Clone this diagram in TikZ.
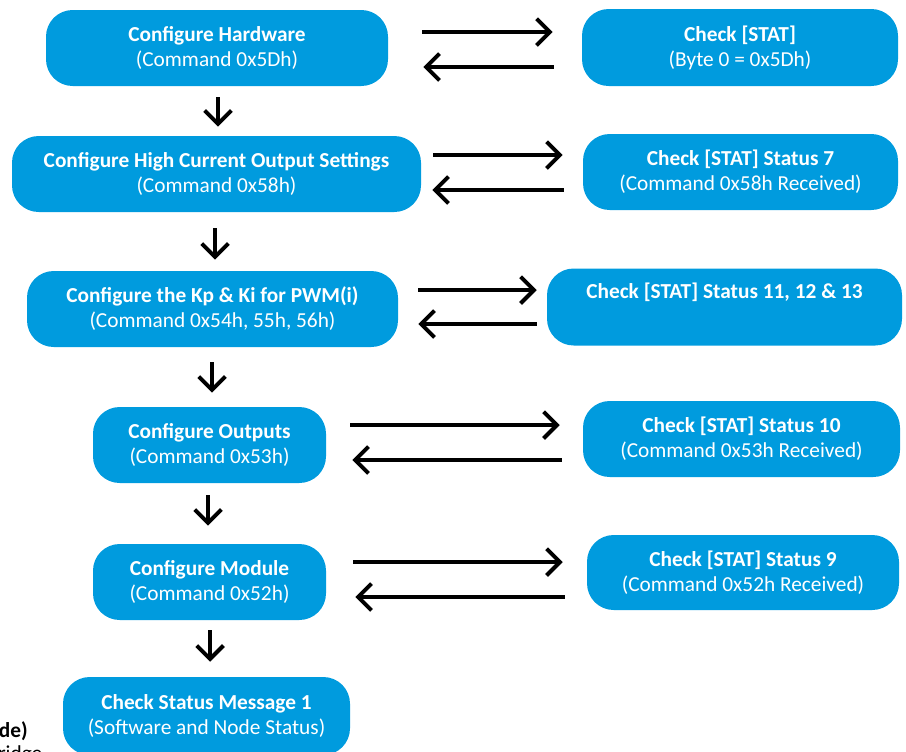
\documentclass[tikz,border=0pt]{standalone}
\usepackage{fontspec}
\setmainfont{Carlito}
\usetikzlibrary{arrows.meta,calc}
\definecolor{boxblue}{RGB}{0,155,222}
\begin{document}
\begin{tikzpicture}[x=0.75pt,y=-0.75pt,
  box/.style={fill=boxblue,rounded corners=20pt,text=white,align=center,inner sep=0pt,
    font=\fontsize{16pt}{18.75pt}\selectfont},
  sz/.style 2 args={minimum width=#1*0.75pt,minimum height=#2*0.75pt},
  harr/.style={line width=3pt,-{Straight Barb[length=10pt,width=20pt,line width=3pt]}},
  varr/.style={line width=3pt,-{Straight Barb[length=10pt,width=20pt,line width=3pt]}},
  sidetext/.style={font=\fontsize{16pt}{18.75pt}\selectfont,inner sep=0pt}]
\useasboundingbox (0,0) rectangle (906,751);
\clip (0,0) rectangle (906,751);
% left column
\node[box,sz={342}{76}] (a1) at (217,48) {\textbf{Configure Hardware}\\(Command 0x5Dh)};
\node[box,sz={409}{76}] (a2) at (216.5,174) {\textbf{Configure High Current Output Settings}\\(Command 0x58h)};
\node[box,sz={371}{76}] (a3) at (212.5,309) {\textbf{Configure the Kp \& Ki for PWM(i)}\\(Command 0x54h, 55h, 56h)};
\node[box,sz={233}{76}] (a4) at (209.5,445) {\textbf{Configure Outputs}\\(Command 0x53h)};
\node[box,sz={233}{76}] (a5) at (209.5,582) {\textbf{Configure Module}\\(Command 0x52h)};
\node[box,sz={287}{78}] (a6) at (206.5,716) {\textbf{Check Status Message 1}\\(Software and Node Status)};
% right column
\node[box,sz={316}{77}] (b1) at (740,47.5) {\textbf{Check [STAT]}\\(Byte 0 = 0x5Dh)};
\node[box,sz={315}{76}] (b2) at (740.5,172) {\textbf{Check [STAT] Status 7}\\(Command 0x58h Received)};
\node[box,sz={355}{77}] (b3) at (724.5,307) {\textbf{Check [STAT] Status 11, 12 \& 13}\\\strut};
\node[box,sz={317}{76}] (b4) at (741.5,439) {\textbf{Check [STAT] Status 10}\\(Command 0x53h Received)};
\node[box,sz={312}{75}] (b5) at (743,572.5) {\textbf{Check [STAT] Status 9}\\(Command 0x52h Received)};
% cut-off side text
\node[sidetext,anchor=base east] (t1) at (28,737) {\textbf{de)}};
\node[sidetext,anchor=base west] (t2) at (-2,760) {ridge};
% vertical arrows
\draw[varr] ($(a1.south)+(1,11)$) -- ($(a2.north)+(1.5,-9)$);
\draw[varr] ($(a2.south)+(-1.5,16)$) -- ($(a3.north)+(2.5,-11)$);
\draw[varr] ($(a3.south)+(-0.5,15)$) -- ($(a4.north)+(2.5,-14)$);
\draw[varr] ($(a4.south)+(-1.5,12)$) -- ($(a5.north)+(-1.5,-18)$);
\draw[varr] ($(a5.south)+(0.5,10)$) -- ($(a6.north)+(3.5,-15)$);
% horizontal arrows
\draw[harr] ($(a1.east)+(34,-16)$) -- ($(b1.west)+(-29,-15.5)$);
\draw[harr] ($(b1.west)+(-28,19.5)$) -- ($(a1.east)+(35,19)$);
\draw[harr] ($(a2.east)+(12,-19)$) -- ($(b2.west)+(-20,-17)$);
\draw[harr] ($(b2.west)+(-19,18)$) -- ($(a2.east)+(11,16)$);
\draw[harr] ($(a3.east)+(20,-19)$) -- ($(b3.west)+(-10,-17)$);
\draw[harr] ($(b3.west)+(-10,17)$) -- ($(a3.east)+(20,15)$);
\draw[harr] ($(a4.east)+(24,-20)$) -- ($(b4.west)+(-23,-14)$);
\draw[harr] ($(b4.west)+(-21,21)$) -- ($(a4.east)+(26,15)$);
\draw[harr] ($(a5.east)+(27,-20)$) -- ($(b5.west)+(-24,-10.5)$);
\draw[harr] ($(b5.west)+(-22,24.5)$) -- ($(a5.east)+(29,15)$);
\end{tikzpicture}
\end{document}
